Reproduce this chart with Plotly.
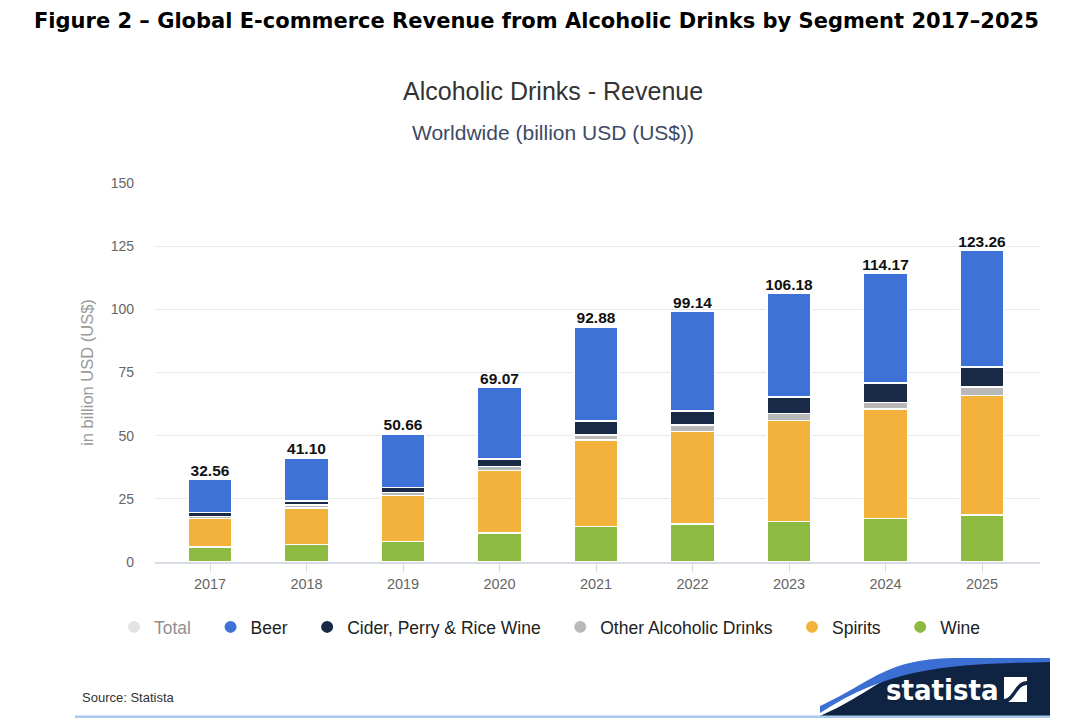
import plotly.graph_objects as go

# values (billion USD)
years = ["2017", "2018", "2019", "2020", "2021", "2022", "2023", "2024", "2025"]
wine = [5.9, 7.0, 8.2, 11.4, 14.0, 15.0, 16.0, 17.2, 18.7]
spirits = [11.3, 14.4, 18.1, 24.8, 34.3, 36.7, 40.0, 43.4, 47.2]
other = [0.9, 1.2, 1.3, 1.6, 2.0, 2.5, 2.8, 2.6, 3.3]
cider = [1.5, 1.5, 1.9, 3.0, 5.5, 5.5, 6.5, 7.6, 7.9]
totals = [32.56, 41.10, 50.66, 69.07, 92.88, 99.14, 106.18, 114.17, 123.26]
beer = [round(t - w - s - o - c, 2) for t, w, s, o, c in zip(totals, wine, spirits, other, cider)]

# page has an 8px body margin, so the figure is drawn a bit smaller
OFF = 8
W, H = 1086 - 2 * OFF, 726 - 2 * OFF
# plot area in page pixels
L, R, T, B = 155, 1040, 183, 562

def px(x):
    return (x - L) / (R - L)

def py(y):
    return (B - y) / (B - T)

FONT = "Liberation Sans, Arial, sans-serif"
colors = {
    "Beer": "#3f72d6",
    "Cider, Perry & Rice Wine": "#182a45",
    "Other Alcoholic Drinks": "#b8b8b8",
    "Spirits": "#f2b23c",
    "Wine": "#8dba41",
}

fig = go.Figure()

# stacked bars, bottom to top
for name, vals in [("Wine", wine), ("Spirits", spirits), ("Other Alcoholic Drinks", other),
                   ("Cider, Perry & Rice Wine", cider), ("Beer", beer)]:
    fig.add_trace(go.Bar(
        x=years, y=vals, name=name, showlegend=False,
        marker=dict(color=colors[name], line=dict(color="white", width=1.5)),
        width=0.46,
    ))

# total labels above the bars
fig.add_trace(go.Scatter(
    x=years, y=totals, mode="text", showlegend=False,
    text=[f"{t:.2f}" for t in totals], textposition="top center",
    textfont=dict(family=FONT, size=15.5, color="#111"),
    texttemplate="<b>%{text}</b>",
))

# legend entries drawn as round markers, in the original order
pad = "\u00a0\u00a0\u00a0"
fig.add_trace(go.Scatter(x=[None], y=[None], mode="markers", name="Total" + pad,
                         visible="legendonly",
                         marker=dict(symbol="circle", size=16, color="#c8c8c8")))
for name in ["Beer", "Cider, Perry & Rice Wine", "Other Alcoholic Drinks", "Spirits", "Wine"]:
    fig.add_trace(go.Scatter(x=[None], y=[None], mode="markers", name=name + pad,
                             marker=dict(symbol="circle", size=16, color=colors[name])))

# category positions: 2017 centred at x=210px, 2025 at x=982px
step = (982 - 210) / 8
x_range = [-(210 - L) / step, 8 + (R - 982) / step]

fig.update_layout(
    width=W, height=H,
    margin=dict(l=L - OFF, r=W - (R - OFF), t=T - OFF, b=H - (B - OFF)),
    paper_bgcolor="white", plot_bgcolor="white",
    barmode="stack",
    font=dict(family=FONT, color="#333"),
    legend=dict(orientation="h", x=px(557), xanchor="center", y=py(627), yanchor="middle",
                font=dict(family=FONT, size=17.5, color="#222"), itemsizing="constant",
                traceorder="normal", itemclick=False, itemdoubleclick=False),
    xaxis=dict(type="category", range=x_range, showgrid=False, showline=True,
               linecolor="#d7dbe3", linewidth=2,
               ticks="outside", ticklen=8, tickcolor="#d7dbe3",
               tickfont=dict(family=FONT, size=14.5, color="#666")),
    yaxis=dict(range=[0, 150], tickvals=[0, 25, 50, 75, 100, 125, 150], showgrid=True,
               gridcolor="#e8e8e8", zeroline=False, ticks="", ticklabelstandoff=20,
               tickfont=dict(family=FONT, size=14, color="#666"),
               title=dict(text="in billion USD (US$)", standoff=12,
                          font=dict(family=FONT, size=16.5, color="#999"))),
)

annotations = [
    dict(text="<b>Figure 2 – Global E-commerce Revenue from Alcoholic Drinks by Segment 2017–2025</b>",
         x=px(536), y=py(21), borderpad=0,
         font=dict(family="DejaVu Sans, sans-serif", size=21, color="#000")),
    dict(text="Alcoholic Drinks - Revenue", x=px(553), y=py(91),
         font=dict(family=FONT, size=25, color="#333")),
    dict(text="Worldwide (billion USD (US$))", x=px(553), y=py(133),
         font=dict(family=FONT, size=21, color="#3d4a66")),
    dict(text="Source: Statista", x=px(80), y=py(697), xanchor="left",
         font=dict(family=FONT, size=13, color="#333")),
    dict(text="<b>statista</b>", x=px(1001), y=py(690), xanchor="right",
         font=dict(family="DejaVu Sans Condensed, DejaVu Sans, sans-serif", size=29, color="white")),
]
for a in annotations:
    a.setdefault("xanchor", "center")
    a.update(xref="paper", yref="paper", yanchor="middle", showarrow=False)
fig.update_layout(annotations=annotations)

def path(points):
    return "M " + " L ".join(f"{px(x):.4f},{py(y):.4f}" for x, y in points) + " Z"

navy = "M {},{} C {},{} {},{} {},{} L {},{} L {},{} L {},{} Z".format(
    px(820), py(716), px(880), py(690), px(890), py(662), px(960), py(662),
    px(1050), py(662), px(1050), py(716), px(820), py(716))
blue = "M {},{} C {},{} {},{} {},{} L {},{} L {},{} C {},{} {},{} {},{} Z".format(
    px(820), py(706), px(875), py(681), px(885), py(658), px(960), py(658),
    px(1050), py(658), px(1050), py(662), px(960), py(664), px(895), py(664), px(820), py(713))
shapes = [
    dict(type="path", path=navy, fillcolor="#0f2442", line=dict(width=0)),
    dict(type="path", path=blue, fillcolor="#3b6fd4", line=dict(width=0)),
    dict(type="line", x0=px(75), x1=px(1050), y0=py(717), y1=py(717), line=dict(color="#a9c8ea", width=3)),
    # statista mark
    dict(type="path", path=path([(1004, 677), (1027, 677), (1027, 702), (1004, 702)]),
         fillcolor="white", line=dict(width=0)),
    dict(type="path", path=f"M {px(1004)},{py(699)} C {px(1013)},{py(699)} {px(1015)},{py(681)} {px(1027)},{py(681)} "
                           f"L {px(1027)},{py(685)} C {px(1017)},{py(685)} {px(1014)},{py(703)} {px(1004)},{py(703)} Z",
         fillcolor="#0f2442", line=dict(width=0)),
]
for s in shapes:
    s.update(xref="paper", yref="paper", layer="above")
fig.update_layout(shapes=shapes)

fig.write_html("out.html")
